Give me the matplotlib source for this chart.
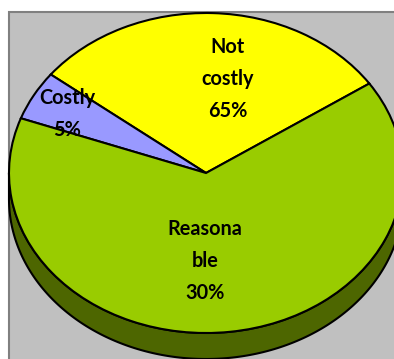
import numpy as np
import matplotlib
matplotlib.use("Agg")
import matplotlib.pyplot as plt
from matplotlib.patches import Polygon, Rectangle

# slice shares as drawn (angles), and the label texts as printed on the chart
categories = ['Not costly', 'Costly', 'Reasonable']
shares = [30, 5, 65]
label_texts = ['Not\ncostly\n65%', 'Costly\n5%', 'Reasona\nble\n30%']
colors = ['#FFFF00', '#9999FF', '#99CC00']

# layout (pixels of the 394x359 picture)
W, H = 394, 359
cx, cy = 206, 173          # centre of the top face
rx, ry = 197, 160          # ellipse radii
depth = 26                 # thickness of the pie side
label_px = [(228, 79), (67, 114), (205, 261)]

fig = plt.figure(figsize=(W / 100, H / 100), dpi=100)
fig.patch.set_facecolor('white')

# plot area background with its border
bg = fig.add_axes([0, 0, 1, 1])
bg.set_xlim(0, W)
bg.set_ylim(H, 0)
bg.axis('off')
bg.add_patch(Rectangle((9, 12), W, H, facecolor='#C0C0C0', edgecolor='#808080', linewidth=1.5))

ax = fig.add_axes([0, 0, 1, 1])
ax.patch.set_alpha(0)

# side of the pie (front, lower half)
d = depth / ry
t = np.linspace(np.pi, 2 * np.pi, 200)
xs = np.concatenate([np.cos(t), np.cos(t[::-1])])
ys = np.concatenate([np.sin(t) - d, np.sin(t[::-1])])
ax.add_patch(Polygon(np.column_stack([xs, ys]), closed=True, facecolor='#4D6600',
                     edgecolor='black', linewidth=1.5, zorder=1))

wedges, _ = ax.pie(shares, colors=colors, startangle=34, counterclock=True,
                   wedgeprops=dict(edgecolor='black', linewidth=1.5))
for w in wedges:
    w.set_zorder(2)

ax.set_aspect('auto')
ax.set_xlim(-cx / rx, (W - cx) / rx)
ax.set_ylim(-(H - cy) / ry, cy / ry)
ax.axis('off')

for txt, (px, py) in zip(label_texts, label_px):
    ax.text((px - cx) / rx, (cy - py) / ry, txt, ha='center', va='center', ma='center',
            fontsize=14.3, fontweight='bold', family=['Lato', 'DejaVu Sans'],
            linespacing=1.72, color='black', zorder=3)

fig.savefig('out.png', dpi=100)
